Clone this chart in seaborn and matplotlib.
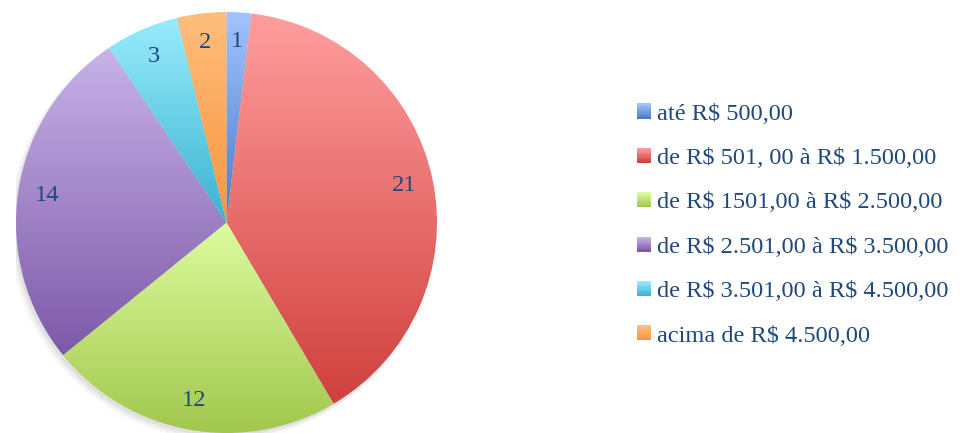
import numpy as np
import matplotlib
matplotlib.use("Agg")
import matplotlib.pyplot as plt
import seaborn as sns
from matplotlib.patches import Rectangle, Circle
from matplotlib.legend_handler import HandlerBase
from matplotlib.colors import LinearSegmentedColormap

sns.set_style("white")
plt.rcParams['font.family'] = ['Liberation Serif', 'DejaVu Serif']
plt.rcParams['text.parse_math'] = False

labels = ['até R$ 500,00', 'de R$ 501, 00 à R$ 1.500,00', 'de R$ 1501,00 à R$ 2.500,00',
          'de R$ 2.501,00 à R$ 3.500,00', 'de R$ 3.501,00 à R$ 4.500,00', 'acima de R$ 4.500,00']
values = [1, 21, 12, 14, 3, 2]

tops = ['#A3C4FF', '#FF9E9E', '#DDFB9E', '#C8B3E9', '#98ECFB', '#FFBE7D']
bottoms = ['#4B7BC4', '#D0403D', '#A0C64C', '#7D59A8', '#3BB3D2', '#F8953F']
text_color = '#1F497D'
fs = 17.6

fig = plt.figure(figsize=(9.6, 4.33), dpi=100)
ax = fig.add_axes([16 / 960, 0, 421 / 960, 421 / 433])

# faint shadow
for i, a in enumerate([0.05, 0.04, 0.03]):
    ax.add_patch(Circle((-0.01 - 0.006 * i, -0.015 - 0.006 * i), 1.0 + 0.004 * i,
                        color='black', alpha=a, lw=0, zorder=0))

wedges, texts = ax.pie(values, startangle=90, counterclock=False, radius=1,
                       labels=[str(v) for v in values], labeldistance=0.86,
                       colors=bottoms, wedgeprops=dict(lw=0),
                       textprops=dict(color=text_color, fontsize=fs, ha='center', va='center'))

grad = np.linspace(1, 0, 256).reshape(-1, 1)
for w, c1, c2 in zip(wedges, tops, bottoms):
    w.set_facecolor('none')
    cmap = LinearSegmentedColormap.from_list('g', [c2, c1])
    verts = w.get_path().vertices
    x0, y0 = verts.min(axis=0)
    x1, y1 = verts.max(axis=0)
    im = ax.imshow(grad, cmap=cmap, extent=[x0, x1, y0, y1], aspect='auto',
                   origin='upper', zorder=1, interpolation='bilinear', vmin=0, vmax=1)
    im.set_clip_path(w)
for t in texts:
    t.set_zorder(3)

ax.set_xlim(-1, 1)
ax.set_ylim(-1, 1)
ax.set_aspect('auto')
ax.axis('off')


class GradHandler(HandlerBase):
    def __init__(self, c1, c2):
        super().__init__()
        self.c1, self.c2 = c1, c2

    def create_artists(self, legend, orig_handle, xdescent, ydescent, width, height, fontsize, trans):
        cmap = LinearSegmentedColormap.from_list('g', [self.c2, self.c1])
        n = 12
        arts = []
        for k in range(n):
            r = Rectangle((-xdescent, -ydescent + height * k / n), width, height / n + 0.05,
                          facecolor=cmap(k / (n - 1)), lw=0, transform=trans)
            arts.append(r)
        return arts


handles = [Rectangle((0, 0), 1, 1) for _ in labels]
hmap = {h: GradHandler(c1, c2) for h, c1, c2 in zip(handles, tops, bottoms)}
leg = fig.legend(handles, labels, handler_map=hmap, loc='center left',
                 bbox_to_anchor=(637 / 960, 208 / 433), frameon=False,
                 fontsize=fs, borderpad=0, borderaxespad=0,
                 handlelength=0.57, handleheight=0.57, handletextpad=0.25,
                 labelspacing=0.95)
for t in leg.get_texts():
    t.set_color(text_color)

fig.savefig('out.png', dpi=100)
